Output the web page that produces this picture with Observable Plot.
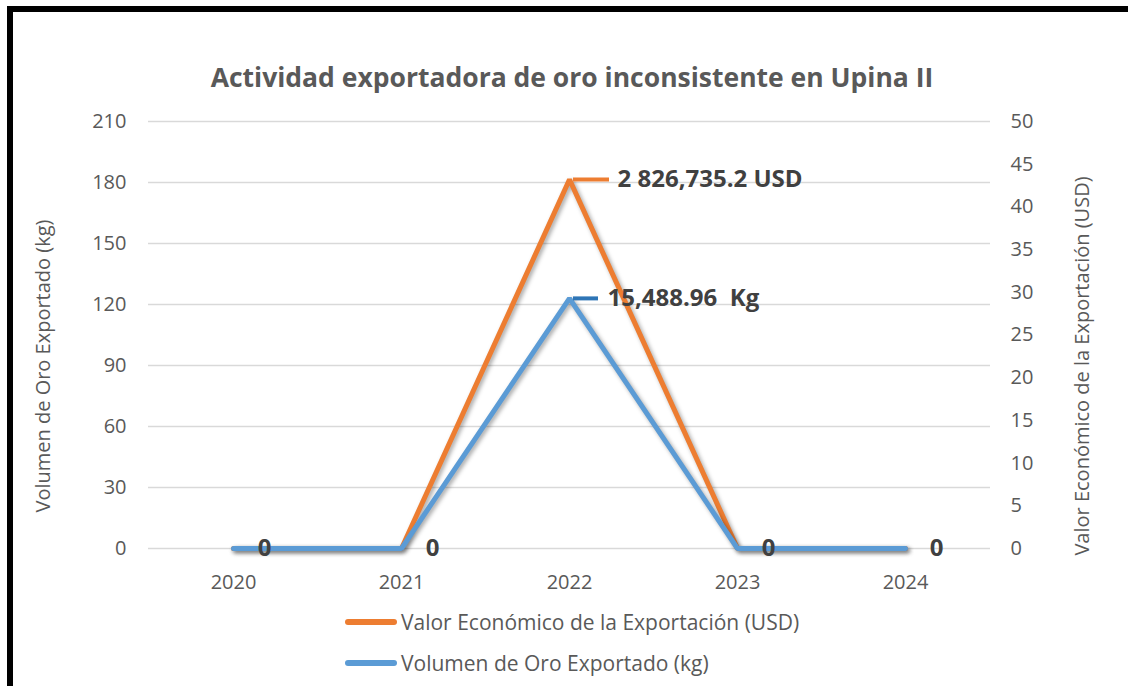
<!DOCTYPE html>
<html>
<head>
<meta charset="utf-8">
<script src="https://cdn.jsdelivr.net/npm/d3@7"></script>
<script src="https://cdn.jsdelivr.net/npm/@observablehq/plot@0.6"></script>
<style>
  html, body { margin: 0; padding: 0; background: #fff; overflow: hidden; width: 1128px; height: 686px; }
  #frame { position: absolute; left: 7px; top: 6px; width: 1300px; height: 900px; border-top: 6px solid #000; border-left: 6px solid #000; }
  #title { position: absolute; left: 0; width: 1144px; top: 60px; text-align: center; font: bold 26.5px "Open Sans", sans-serif; color: #595959; line-height: 34px; }
  #chart { position: absolute; left: 0; top: 100px; }
  #chart svg text { white-space: pre; }
  #chart svg g[aria-label="line"] { filter: drop-shadow(2px 2px 2px rgba(0,0,0,0.35)); }
  .axtitle { position: absolute; white-space: nowrap; font: 20px "Open Sans", sans-serif; color: #595959; transform: translate(-50%, -50%) rotate(-90deg); line-height: 24px; }
  .legrow { position: absolute; left: 345px; height: 30px; display: flex; align-items: center; font: 21px "Open Sans", sans-serif; color: #595959; }
  .sw { width: 52px; height: 6px; border-radius: 3px; margin-right: 4px; }
</style>
</head>
<body>
<div id="frame"></div>
<div id="title">Actividad exportadora de oro inconsistente en Upina II</div>
<div id="chart"></div>
<div id="axtitles"></div>
<div id="legend"></div>
<script>
const years = ["2020", "2021", "2022", "2023", "2024"];
const valorUSD = [0, 0, 43.2, 0, 0];      // right axis units
const volumenKg = [0, 0, 123, 0, 0];      // left axis units
const leftTicks = [0, 30, 60, 90, 120, 150, 180, 210];
const rightTicks = [0, 5, 10, 15, 20, 25, 30, 35, 40, 45, 50];
const peakLabelUSD = "2 826,735.2 USD";
const peakLabelKg = "15,488.96  Kg";
const seriesNames = ["Valor Económico de la Exportación (USD)", "Volumen de Oro Exportado (kg)"];
const colors = ["#ED7D31", "#5B9BD5"];
const leftTitle = "Volumen de Oro Exportado (kg)";
const rightTitle = "Valor Económico de la Exportación (USD)";

const leftMax = 210, rightMax = 50;
const k = leftMax / rightMax;

const usdRows = years.map((y, i) => ({year: y, v: valorUSD[i] * k}));
const kgRows = years.map((y, i) => ({year: y, v: volumenKg[i]}));
const peakIdxUSD = valorUSD.indexOf(d3.max(valorUSD));
const peakIdxKg = volumenKg.indexOf(d3.max(volumenKg));
const zeroRows = kgRows.filter((d, i) => volumenKg[i] === 0);

const chart = Plot.plot({
  width: 1128,
  height: 500,
  marginLeft: 148,
  marginRight: 138,
  marginTop: 21,
  marginBottom: 52,
  style: {fontFamily: "'Open Sans', sans-serif", fontSize: "20px", color: "#595959", background: "transparent", overflow: "visible"},
  x: {type: "point", domain: years, padding: 0.5, label: null},
  y: {domain: [0, leftMax], label: null},
  marks: [
    Plot.gridY(leftTicks, {stroke: "#d9d9d9", strokeOpacity: 1, strokeWidth: 1.5}),
    Plot.axisY(leftTicks, {anchor: "left", tickSize: 0, tickPadding: 22, label: null, fill: "#595959"}),
    Plot.axisY(rightTicks.map(v => v * k), {anchor: "right", tickSize: 0, tickPadding: 20, label: null, tickFormat: d => Math.round(d / k), fill: "#595959"}),
    Plot.axisX({tickSize: 0, tickPadding: 26, label: null, fill: "#595959"}),
    Plot.line(usdRows, {x: "year", y: "v", stroke: colors[0], strokeWidth: 5, strokeLinejoin: "miter", strokeLinecap: "round"}),
    Plot.line(kgRows, {x: "year", y: "v", stroke: colors[1], strokeWidth: 5, strokeLinejoin: "miter", strokeLinecap: "round"}),
    Plot.ruleY([usdRows[peakIdxUSD]], {x1: "year", x2: "year", y: "v", stroke: colors[0], strokeWidth: 4, insetLeft: 4, insetRight: -40}),
    Plot.ruleY([kgRows[peakIdxKg]], {x1: "year", x2: "year", y: "v", stroke: "#2E75B6", strokeWidth: 4, insetLeft: 4, insetRight: -29}),
    Plot.text([usdRows[peakIdxUSD]], {x: "year", y: "v", text: () => peakLabelUSD, dx: 48, textAnchor: "start", fontWeight: "bold", fontSize: 24, fill: "#404040"}),
    Plot.text([kgRows[peakIdxKg]], {x: "year", y: "v", text: () => peakLabelKg, dx: 38, textAnchor: "start", fontWeight: "bold", fontSize: 24, fill: "#404040"}),
    Plot.text(zeroRows, {x: "year", y: "v", text: d => String(d.v), dx: 31, fontWeight: "bold", fontSize: 24, fill: "#404040"})
  ]
});
document.getElementById("chart").appendChild(chart);

// axis titles (rotated HTML text)
const ax = document.getElementById("axtitles");
[[leftTitle, 43, 366], [rightTitle, 1082, 366]].forEach(([txt, cx, cy]) => {
  const d = document.createElement("div");
  d.className = "axtitle";
  d.style.left = cx + "px";
  d.style.top = cy + "px";
  d.textContent = txt;
  ax.appendChild(d);
});

const legend = document.getElementById("legend");
const legendTops = [607, 648];
seriesNames.forEach((name, i) => {
  const row = document.createElement("div");
  row.className = "legrow";
  row.style.top = legendTops[i] + "px";
  const sw = document.createElement("div");
  sw.className = "sw";
  sw.style.background = colors[i];
  const t = document.createElement("span");
  t.textContent = name;
  row.appendChild(sw);
  row.appendChild(t);
  legend.appendChild(row);
});
</script>
</body>
</html>
